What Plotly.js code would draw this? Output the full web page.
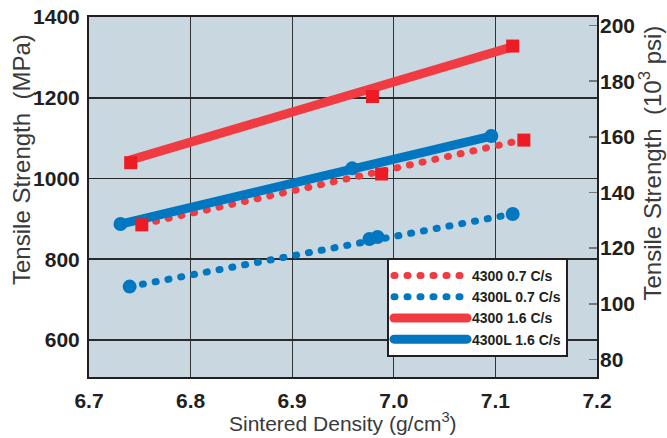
<!DOCTYPE html>
<html>
<head>
<meta charset="utf-8">
<script src="https://cdn.plot.ly/plotly-3.0.1.min.js"></script>
<style>
  html, body { margin: 0; padding: 0; background: #fff; }
  #chart { width: 667px; height: 438px; }
  path.js-line { stroke-linecap: round !important; }
</style>
</head>
<body>
<div id="chart"></div>
<script>
// ---- data ----
const seriesNames = ['4300 0.7 C/s', '4300L 0.7 C/s', '4300 1.6 C/s', '4300L 1.6 C/s'];

// measured points
const red07X  = [6.752, 6.988, 7.128];
const red07Y  = [885, 1011, 1095];
const blue07X = [6.740, 6.976, 6.984, 7.117];
const blue07Y = [732, 850, 855, 912];
const red16X  = [6.741, 6.979, 7.117];
const red16Y  = [1039, 1203, 1328];
const blue16X = [6.731, 6.959, 7.096];
const blue16Y = [887, 1025, 1105];

// fitted trend lines (end points)
const red07FitX  = [6.753, 7.126];
const red07FitY  = [887, 1095];
const blue07FitX = [6.740, 7.117];
const blue07FitY = [732, 912];
const red16FitX  = [6.741, 7.115];
const red16FitY  = [1046, 1325];
const blue16FitX = [6.731, 7.096];
const blue16FitY = [887, 1105];

// axis ticks
const xTicks = [6.7, 6.8, 6.9, 7.0, 7.1, 7.2];
const xTickText = ['6.7', '6.8', '6.9', '7.0', '7.1', '7.2'];
const yTicks = [600, 800, 1000, 1200, 1400];
const y2Ticks = [80, 100, 120, 140, 160, 180, 200];
const yRange = [508, 1400];
const MPA_PER_KSI = 6.894757;

// ---- styles ----
const RED_LINE = '#EF3B41';
const RED_MARK = '#ED1C24';
const BLUE = '#0077C0';
const DOT = '1px,12px';
const tickFont = { family: 'Liberation Sans, Arial, sans-serif', size: 21, color: '#231F20', weight: 'bold' };
const titleFont = { family: 'Liberation Sans, Arial, sans-serif', size: 24, color: '#3a3a3a' };

function fitTrace(x, y, name, color, dash, width, group) {
  return { x: x, y: y, name: name, type: 'scatter', mode: 'lines',
           line: { color: color, width: width, dash: dash },
           legendgroup: group, hoverinfo: 'skip' };
}
function markTrace(x, y, color, symbol, size, group) {
  return { x: x, y: y, type: 'scatter', mode: 'markers', showlegend: false,
           legendgroup: group,
           marker: { color: color, symbol: symbol, size: size } };
}

const traces = [
  fitTrace(red07FitX,  red07FitY,  seriesNames[0], RED_LINE, DOT, 7, 'a'),
  fitTrace(blue07FitX, blue07FitY, seriesNames[1], BLUE, DOT, 7, 'b'),
  fitTrace(red16FitX,  red16FitY,  seriesNames[2], RED_LINE, 'solid', 9, 'c'),
  fitTrace(blue16FitX, blue16FitY, seriesNames[3], BLUE, 'solid', 9, 'd'),
  markTrace(red07X,  red07Y,  RED_MARK, 'square', 13, 'a'),
  markTrace(blue07X, blue07Y, BLUE, 'circle', 14, 'b'),
  markTrace(red16X,  red16Y,  RED_MARK, 'square', 13, 'c'),
  markTrace(blue16X, blue16Y, BLUE, 'circle', 14, 'd'),
  // secondary axis carrier (invisible)
  { x: [6.7], y: [100], yaxis: 'y2', type: 'scatter', mode: 'markers',
    marker: { opacity: 0 }, showlegend: false, hoverinfo: 'skip' }
];

const layout = {
  width: 667, height: 438,
  margin: { l: 89, r: 70, t: 17, b: 61 },
  paper_bgcolor: '#ffffff',
  plot_bgcolor: '#C9D7E0',
  showlegend: true,
  legend: {
    x: 0.5866, y: 0.3306, xanchor: 'left', yanchor: 'top',
    bgcolor: '#ffffff', bordercolor: '#231F20', borderwidth: 2,
    font: { family: 'Liberation Sans, Arial, sans-serif', size: 14, color: '#231F20', weight: 'bold' },
    itemwidth: 73, tracegroupgap: 3, traceorder: 'normal'
  },
  xaxis: {
    range: [6.7, 7.2], tickvals: xTicks, ticktext: xTickText,
    showgrid: true, gridcolor: '#333333', gridwidth: 1.3,
    showline: true, mirror: true, linecolor: '#231F20', linewidth: 2,
    ticks: '', zeroline: false, tickfont: tickFont, ticklabelstandoff: 4
  },
  yaxis: {
    range: yRange, tickvals: yTicks,
    showgrid: true, gridcolor: '#2a2a2a', gridwidth: 1.6,
    showline: true, mirror: true, linecolor: '#231F20', linewidth: 2,
    ticks: '', zeroline: false, tickfont: tickFont, ticklabelstandoff: 3
  },
  yaxis2: {
    overlaying: 'y', side: 'right',
    range: [yRange[0] / MPA_PER_KSI, yRange[1] / MPA_PER_KSI],
    tickvals: y2Ticks, showgrid: false, zeroline: false, showline: false,
    ticks: 'inside', ticklen: 8, tickwidth: 1.5, tickcolor: '#777777',
    tickfont: tickFont, ticklabelstandoff: 2
  },
  annotations: [
    { text: 'Tensile Strength  (MPa)', xref: 'paper', yref: 'paper',
      x: -0.1319, y: 0.6056, xanchor: 'center', yanchor: 'middle',
      textangle: -90, showarrow: false, font: titleFont },
    { text: 'Tensile Strength  (10<sup>3</sup> psi)', xref: 'paper', yref: 'paper',
      x: 1.1043, y: 0.5958, xanchor: 'center', yanchor: 'middle',
      textangle: -90, showarrow: false, font: titleFont },
    { text: 'Sintered Density (g/cm<sup>3</sup>)', xref: 'paper', yref: 'paper',
      x: 0.5, y: -0.1667, xanchor: 'center', yanchor: 'bottom',
      showarrow: false, font: Object.assign({}, titleFont, { size: 21 }) }
  ]
};

Plotly.newPlot('chart', traces, layout, { staticPlot: true, displayModeBar: false });
</script>
</body>
</html>
